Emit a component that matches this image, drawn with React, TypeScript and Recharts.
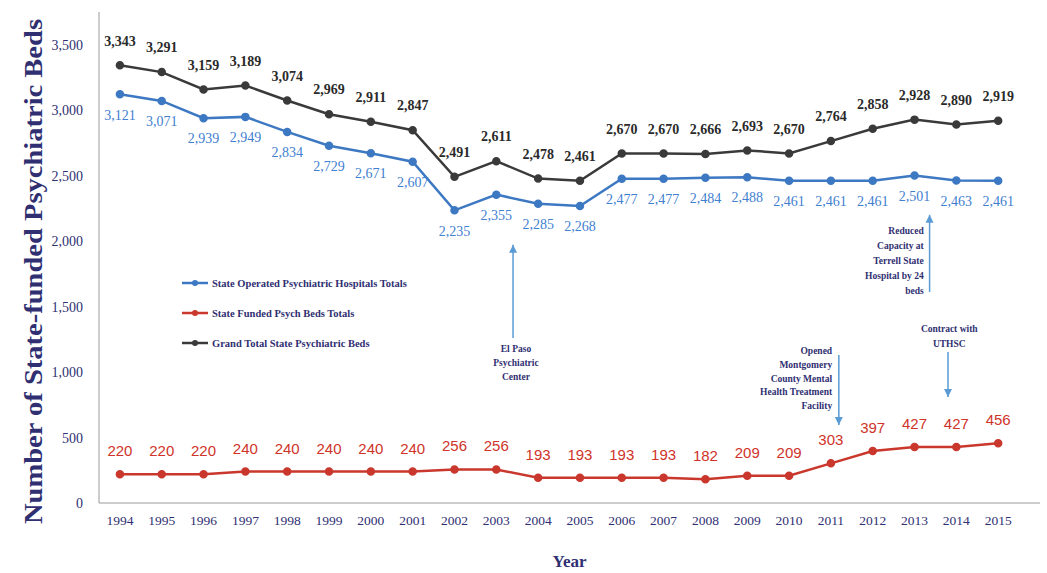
import React from "react";
import {
  LineChart,
  Line,
  XAxis,
  YAxis,
  LabelList,
  Legend,
  ReferenceLine,
  ReferenceDot,
  Label,
} from "recharts";

const years = [
  1994, 1995, 1996, 1997, 1998, 1999, 2000, 2001, 2002, 2003, 2004,
  2005, 2006, 2007, 2008, 2009, 2010, 2011, 2012, 2013, 2014, 2015,
];
const stateOperated = [
  3121, 3071, 2939, 2949, 2834, 2729, 2671, 2607, 2235, 2355, 2285,
  2268, 2477, 2477, 2484, 2488, 2461, 2461, 2461, 2501, 2463, 2461,
];
const stateFunded = [
  220, 220, 220, 240, 240, 240, 240, 240, 256, 256, 193,
  193, 193, 193, 182, 209, 209, 303, 397, 427, 427, 456,
];
const grandTotal = [
  3343, 3291, 3159, 3189, 3074, 2969, 2911, 2847, 2491, 2611, 2478,
  2461, 2670, 2670, 2666, 2693, 2670, 2764, 2858, 2928, 2890, 2919,
];
const yTicks = [0, 500, 1000, 1500, 2000, 2500, 3000, 3500];

const seriesNames = {
  op: "State Operated Psychiatric Hospitals Totals",
  fund: "State Funded Psych Beds Totals",
  total: "Grand Total State Psychiatric Beds",
};

const data = years.map((y, i) => ({
  year: y,
  op: stateOperated[i],
  fund: stateFunded[i],
  total: grandTotal[i],
}));

const BLUE = "#3d78c2";
const BLUE_TXT = "#3f80d0";
const RED = "#c9372d";
const BLACK = "#3a3a3a";
const NAVY = "#2f2f72";
const ARROW = "#5b9bd5";
const SERIF = "'Liberation Serif', 'Times New Roman', serif";
const SANS = "'Liberation Sans', Arial, sans-serif";

const fmt = (v: number) => v.toLocaleString("en-US");

// annotations
const notes = [
  { x: 2003.47, y: 1169, anchor: "middle", step: 14, lines: ["El Paso", "Psychiatric", "Center"] },
  { x: 2011.03, y: 1154, anchor: "end", step: 13.8, lines: ["Opened", "Montgomery", "County Mental", "Health Treatment", "Facility"] },
  { x: 2013.22, y: 2071, anchor: "end", step: 15, lines: ["Reduced", "Capacity at", "Terrell State", "Hospital by 24", "beds"] },
  { x: 2013.83, y: 1322, anchor: "middle", step: 15, lines: ["Contract with", "UTHSC"] },
];
const arrows = [
  { x: 2003.4, from: 1261, to: 1972 },
  { x: 2011.19, from: 1131, to: 596 },
  { x: 2013.36, from: 1612, to: 2201 },
  { x: 2013.8, from: 1154, to: 810 },
];

const makeLabel = (color: string, dy: number, family: string, size: number, weight: string | number) =>
  (props: any) => {
    const { x, y, value } = props;
    return (
      <text
        x={x}
        y={y + dy}
        textAnchor="middle"
        dominantBaseline="middle"
        fill={color}
        fontFamily={family}
        fontSize={size}
        fontWeight={weight}
      >
        {fmt(value)}
      </text>
    );
  };

const legendItems = [
  { name: seriesNames.op, color: BLUE },
  { name: seriesNames.fund, color: RED },
  { name: seriesNames.total, color: BLACK },
];

const renderLegend = () => (
  <div style={{ display: "flex", flexDirection: "column" }}>
    {legendItems.map((it) => (
      <div key={it.name} style={{ display: "flex", alignItems: "center", height: 30 }}>
        <svg width={28} height={10} style={{ marginRight: 3 }}>
          <line x1={1} y1={5} x2={27} y2={5} stroke={it.color} strokeWidth={2.5} />
          <circle cx={14} cy={5} r={3} fill={it.color} />
        </svg>
        <span style={{ fontFamily: SERIF, fontSize: 10.5, color: NAVY, fontWeight: 600, whiteSpace: "nowrap" }}>
          {it.name}
        </span>
      </div>
    ))}
  </div>
);

const YTitle = (props: any) => {
  const vb = props.viewBox || {};
  const cx = 36;
  const cy = vb.y + vb.height / 2 + 14;
  return (
    <text
      x={cx}
      y={cy}
      transform={`rotate(-90 ${cx} ${cy})`}
      textAnchor="middle"
      dominantBaseline="middle"
      fill={NAVY}
      fontFamily={SERIF}
      fontWeight="bold"
      fontSize={26}
      textLength={505}
      lengthAdjust="spacingAndGlyphs"
    >
      Number of State-funded Psychiatric Beds
    </text>
  );
};

export default function App() {
  return (
    <div style={{ position: "absolute", left: 0, top: 0, background: "#fff" }}>
      <LineChart
        width={1047}
        height={573}
        data={data}
        margin={{ top: 12, right: 7, bottom: 40, left: 39 }}
      >
        <XAxis
          type="number"
          dataKey="year"
          domain={[1993.5, 2015.5]}
          ticks={years}
          allowDecimals={false}
          stroke="#9a9a9a"
          tickLine={false}
          tickMargin={6}
          tick={{ fill: NAVY, fontFamily: SERIF, fontSize: 13.5 }}
        >
          <Label
            value="Year"
            position="bottom"
            offset={22}
            fill={NAVY}
            fontFamily={SERIF}
            fontWeight="bold"
            fontSize={17}
          />
        </XAxis>
        <YAxis
          width={60}
          domain={[0, 3750]}
          ticks={yTicks}
          stroke="#9a9a9a"
          tickLine={false}
          tickMargin={10}
          tickFormatter={fmt}
          tick={{ fill: NAVY, fontFamily: SERIF, fontSize: 14 }}
          label={<YTitle />}
        />
        <Legend
          layout="vertical"
          align="center"
          verticalAlign="middle"
          wrapperStyle={{ left: 181, top: 268, width: 270 }}
          content={renderLegend}
        />

        {arrows.map((a, i) => (
          <ReferenceLine
            key={"al" + i}
            segment={[
              { x: a.x, y: a.from },
              { x: a.x, y: a.to },
            ]}
            stroke={ARROW}
            strokeWidth={1.5}
          />
        ))}
        {arrows.map((a, i) => (
          <ReferenceDot
            key={"ah" + i}
            x={a.x}
            y={a.to}
            shape={(p: any) => {
              const up = a.to > a.from;
              const d = up ? 8 : -8;
              return (
                <polygon
                  points={`${p.cx},${p.cy} ${p.cx - 4},${p.cy + d} ${p.cx + 4},${p.cy + d}`}
                  fill={ARROW}
                />
              );
            }}
          />
        ))}
        {notes.map((n, i) => (
          <ReferenceDot
            key={"n" + i}
            x={n.x}
            y={n.y}
            shape={(p: any) => (
              <text
                x={p.cx}
                y={p.cy}
                textAnchor={n.anchor as any}
                fill={NAVY}
                fontFamily={SERIF}
                fontSize={9.5}
                fontWeight={600}
              >
                {n.lines.map((ln, j) => (
                  <tspan key={j} x={p.cx} y={p.cy + j * n.step} dominantBaseline="middle">
                    {ln}
                  </tspan>
                ))}
              </text>
            )}
          />
        ))}

        <Line
          dataKey="total"
          name={seriesNames.total}
          stroke={BLACK}
          strokeWidth={2.5}
          dot={{ r: 3, fill: BLACK, stroke: BLACK }}
          isAnimationActive={false}
        >
          <LabelList dataKey="total" content={makeLabel("#2a2a2a", -23, SERIF, 14, 600)} />
        </Line>
        <Line
          dataKey="op"
          name={seriesNames.op}
          stroke={BLUE}
          strokeWidth={2.5}
          dot={{ r: 3, fill: BLUE, stroke: BLUE }}
          isAnimationActive={false}
        >
          <LabelList dataKey="op" content={makeLabel(BLUE_TXT, 22, SERIF, 14, 400)} />
        </Line>
        <Line
          dataKey="fund"
          name={seriesNames.fund}
          stroke={RED}
          strokeWidth={2.5}
          dot={{ r: 3, fill: RED, stroke: RED }}
          isAnimationActive={false}
        >
          <LabelList dataKey="fund" content={makeLabel("#cf3329", -22, SANS, 15, 400)} />
        </Line>
      </LineChart>
    </div>
  );
}
